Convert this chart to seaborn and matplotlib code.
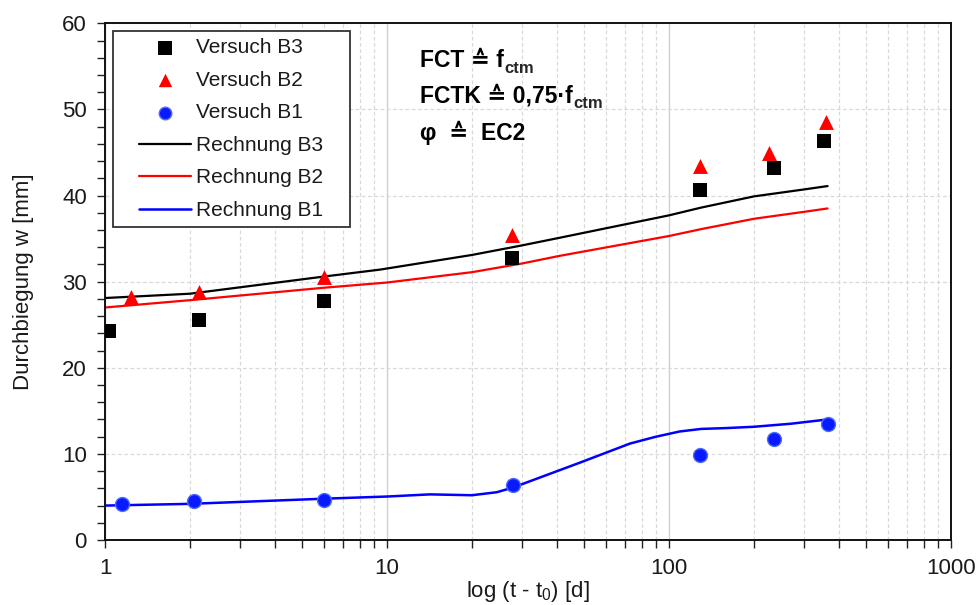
import numpy as np
import pandas as pd
import matplotlib
matplotlib.use("Agg")
import matplotlib.pyplot as plt
import seaborn as sns
from matplotlib.ticker import FixedLocator, NullFormatter, LogLocator, MultipleLocator, FixedFormatter
from matplotlib.patches import Rectangle

# ---- data ----
v_b3_t = [1.03, 2.15, 6.0, 27.7, 129, 236, 355]
v_b3_w = [24.3, 25.5, 27.7, 32.8, 40.6, 43.2, 46.3]
v_b2_t = [1.24, 2.15, 6.0, 27.7, 129, 226, 359]
v_b2_w = [28.2, 28.8, 30.5, 35.4, 43.4, 44.9, 48.5]
v_b1_t = [1.15, 2.07, 6.0, 28.0, 129, 236, 365]
v_b1_w = [4.2, 4.5, 4.7, 6.4, 9.9, 11.7, 13.5]

r_b3_t = [1, 2, 6, 9.45, 20, 30, 41, 100, 130, 200, 300, 365]
r_b3_w = [28.1, 28.6, 30.6, 31.4, 33.1, 34.2, 35.1, 37.7, 38.6, 39.9, 40.7, 41.1]
r_b2_t = [1, 2, 6, 10, 20, 30, 41, 100, 130, 200, 300, 365]
r_b2_w = [27.0, 27.85, 29.3, 29.9, 31.1, 32.1, 33.0, 35.3, 36.1, 37.3, 38.1, 38.5]
r_b1_t = [1, 2, 6, 10, 14.2, 20, 24.5, 28, 48, 72.7, 90, 109, 130, 160, 200, 270, 365]
r_b1_w = [4.0, 4.2, 4.8, 5.05, 5.3, 5.2, 5.55, 6.1, 8.95, 11.2, 12.0, 12.6, 12.9, 13.0, 13.15, 13.5, 14.0]

x_major = [1, 10, 100, 1000]
x_major_labels = ["1", "10", "100", "1000"]
legend_order = ["Versuch B3", "Versuch B2", "Versuch B1",
                "Rechnung B3", "Rechnung B2", "Rechnung B1"]

# ---- style ----
sns.set_theme(style="white")
plt.rcParams["font.family"] = ["Liberation Sans", "DejaVu Sans"]
plt.rcParams["mathtext.fontset"] = "custom"
plt.rcParams["mathtext.rm"] = "Liberation Sans"
plt.rcParams["mathtext.it"] = "Liberation Sans:italic"

fig, ax = plt.subplots(figsize=(9.79, 6.05), dpi=100)
fig.subplots_adjust(left=0.1073, right=0.9714, top=0.9615, bottom=0.1074)

txt_col = "#1a1a1a"

# scatter (measurements)
sns.scatterplot(x=v_b3_t, y=v_b3_w, marker="s", color="black", s=115,
                linewidth=0, label="Versuch B3", ax=ax, zorder=3)
sns.scatterplot(x=v_b2_t, y=v_b2_w, marker="^", color="#ff0000", s=115,
                linewidth=0, label="Versuch B2", ax=ax, zorder=3)
sns.scatterplot(x=v_b1_t, y=v_b1_w, marker="o", color="#0a1aff", s=100,
                edgecolor="#4a6cff", linewidth=1.0, label="Versuch B1", ax=ax, zorder=3)

# lines (calculation)
sns.lineplot(x=r_b3_t, y=r_b3_w, color="black", lw=1.6, label="Rechnung B3",
             ax=ax, sort=False, estimator=None, zorder=2)
sns.lineplot(x=r_b2_t, y=r_b2_w, color="#ff0000", lw=1.6, label="Rechnung B2",
             ax=ax, sort=False, estimator=None, zorder=2)
sns.lineplot(x=r_b1_t, y=r_b1_w, color="#0000ff", lw=1.8, label="Rechnung B1",
             ax=ax, sort=False, estimator=None, zorder=2)

ax.set_xscale("log")
ax.set_xlim(1, 1000)
ax.set_ylim(0, 60)

ax.xaxis.set_major_locator(FixedLocator(x_major))
ax.xaxis.set_major_formatter(FixedFormatter(x_major_labels))
ax.xaxis.set_minor_locator(LogLocator(base=10, subs=np.arange(2, 10)))
ax.xaxis.set_minor_formatter(NullFormatter())
ax.yaxis.set_major_locator(MultipleLocator(10))
ax.yaxis.set_minor_locator(MultipleLocator(2))

ax.tick_params(axis="both", which="both", direction="out", length=6, width=1.0,
               color="#222222", labelsize=16, labelcolor=txt_col, pad=7)
ax.tick_params(axis="y", which="both", left=True, right=False)
ax.tick_params(axis="x", which="both", bottom=True, top=False)

# grid
ax.grid(False)
ax.grid(True, which="major", axis="x", color="#cfcfcf", lw=1.0, ls="-", zorder=0)
ax.grid(True, which="minor", axis="x", color="#d9d9d9", lw=0.9, ls=(0, (3, 2)), zorder=0)
ax.grid(True, which="major", axis="y", color="#d9d9d9", lw=0.9, ls=(0, (3, 2)), zorder=0)
ax.set_axisbelow(True)

for sp in ax.spines.values():
    sp.set_visible(True)
    sp.set_color("#111111")
    sp.set_linewidth(1.4)

ax.set_xlabel(r"log (t - t$_\mathrm{0}$) [d]", fontsize=16, color=txt_col, labelpad=0)
ax.set_ylabel("Durchbiegung w [mm]", fontsize=16, color=txt_col, labelpad=20)

# legend
handles, labels = ax.get_legend_handles_labels()
hmap = dict(zip(labels, handles))
ax.add_patch(Rectangle((0.0095, 0.605), 0.2801, 0.3795, transform=ax.transAxes,
                       facecolor="white", edgecolor="#333333", lw=1.3, zorder=4))
leg = ax.legend([hmap[l] for l in legend_order], legend_order,
                loc="upper left", bbox_to_anchor=(0.040, 0.971),
                frameon=False, fontsize=15, borderpad=0, borderaxespad=0,
                handlelength=2.5, handletextpad=0.25, labelspacing=0.65,
                markerscale=0.9)
leg.set_zorder(5)
for t in leg.get_texts():
    t.set_color(txt_col)

# annotation block
fam = ["Liberation Sans", "DejaVu Sans"]
lines = [("FCT ≙ f", "ctm", 0.915),
         ("FCTK ≙ 0,75·f", "ctm", 0.846),
         ("φ  ≙  EC2", None, 0.774)]
for main, sub, yy in lines:
    t = ax.text(0.372, yy, main, transform=ax.transAxes, fontsize=16.5,
                fontweight="bold", family=fam, color="black", va="baseline",
                ha="left", zorder=6)
    if sub:
        ax.annotate(sub, xy=(1, 0), xycoords=t, xytext=(0.3, -2.5),
                    textcoords="offset points", fontsize=12, fontweight="bold",
                    family=fam, va="bottom", ha="left", zorder=6)

fig.savefig("out.png", dpi=100)
